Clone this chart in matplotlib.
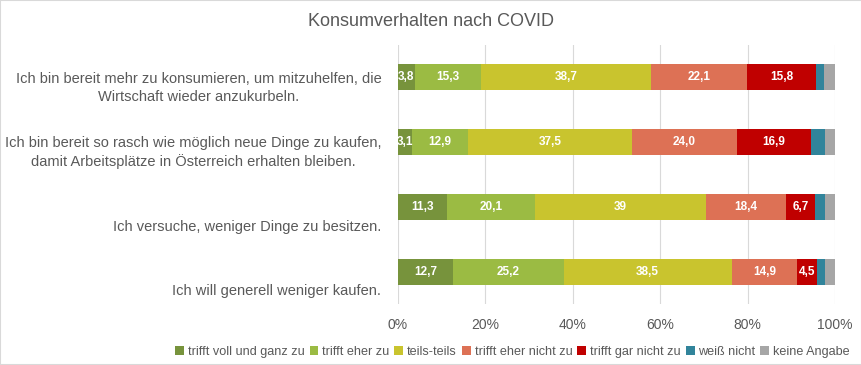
import matplotlib
matplotlib.use('Agg')
import matplotlib.pyplot as plt
from matplotlib.patches import Patch, Rectangle
import numpy as np

# Daten
statements = [
    'Ich bin bereit mehr zu konsumieren, um mitzuhelfen, die\nWirtschaft wieder anzukurbeln.',
    'Ich bin bereit so rasch wie möglich neue Dinge zu kaufen,\ndamit Arbeitsplätze in Österreich erhalten bleiben.',
    'Ich versuche, weniger Dinge zu besitzen.',
    'Ich will generell weniger kaufen.',
]
answers = ['trifft voll und ganz zu', 'trifft eher zu', 'teils-teils', 'trifft eher nicht zu',
           'trifft gar nicht zu', 'weiß nicht', 'keine Angabe']
voll_zu = [3.8, 3.1, 11.3, 12.7]
eher_zu = [15.3, 12.9, 20.1, 25.2]
teils = [38.7, 37.5, 39.0, 38.5]
eher_nicht = [22.1, 24.0, 18.4, 14.9]
gar_nicht = [15.8, 16.9, 6.7, 4.5]
weiss_nicht = [1.7, 3.2, 2.3, 2.0]
keine_angabe = [2.6, 2.4, 2.2, 2.2]
# Beschriftungen wie im Original (39 ohne Komma)
value_labels = [
    ['3,8', '3,1', '11,3', '12,7'],
    ['15,3', '12,9', '20,1', '25,2'],
    ['38,7', '37,5', '39', '38,5'],
    ['22,1', '24,0', '18,4', '14,9'],
    ['15,8', '16,9', '6,7', '4,5'],
]

COLORS = ['#77933c', '#9bbb43', '#c9c42e', '#dd7155', '#c00000', '#31849b', '#a6a6a6']
TEXT_GRAY = '#595959'

plt.rcParams['font.family'] = ['Liberation Sans', 'DejaVu Sans']

fig = plt.figure(figsize=(8.62, 3.65), dpi=100)
ax = fig.add_axes([398 / 862, 1 - 304 / 365, 437 / 862, 259 / 365])

series = [voll_zu, eher_zu, teils, eher_nicht, gar_nicht, weiss_nicht, keine_angabe]
y = np.arange(len(statements))
left = np.zeros(len(statements))
for k, vals in enumerate(series):
    vals = np.array(vals)
    ax.barh(y, vals, left=left, height=0.4, color=COLORS[k], edgecolor='none', zorder=3)
    if k < len(value_labels):
        for i in range(len(statements)):
            ax.text(left[i] + vals[i] / 2, y[i], value_labels[k][i], ha='center', va='center',
                    color='white', fontsize=8.5, fontweight='bold', zorder=4)
    left += vals

ax.set_xlim(0, 100)
ax.set_ylim(len(statements) - 0.5, -0.5)
ax.set_xticks(np.arange(0, 101, 20))
ax.set_xticklabels([f'{v}%' for v in range(0, 101, 20)], color=TEXT_GRAY, fontsize=10)
ax.set_yticks([])
ax.tick_params(axis='x', length=0, pad=10)
ax.grid(axis='x', color='#d9d9d9', linewidth=0.8, zorder=0)
for s in ax.spines.values():
    s.set_visible(False)

# Kategorie-Beschriftungen: rechtsbündig, unten im Band
for i, txt in enumerate(statements):
    ax.annotate(txt, xy=(0, i + 0.5), xycoords=('axes fraction', 'data'),
                xytext=(-12, 4), textcoords='offset points',
                ha='right', va='bottom', multialignment='center',
                fontsize=10.5, color=TEXT_GRAY, linespacing=1.35)

fig.text(431 / 862, 1 - 22 / 365, 'Konsumverhalten nach COVID', ha='center', va='center',
         fontsize=13, color=TEXT_GRAY)

handles = [Patch(facecolor=c, edgecolor='none') for c in COLORS]
fig.legend(handles, answers, loc='center left', bbox_to_anchor=(170 / 862, 1 - 352 / 365),
           ncol=7, frameon=False, fontsize=9.1, handlelength=0.7, handleheight=0.7,
           handletextpad=0.3, columnspacing=0.4, labelcolor=TEXT_GRAY, borderaxespad=0)

fig.patches.append(Rectangle((0, 0), 1, 1, transform=fig.transFigure, fill=False,
                             edgecolor='#d9d9d9', linewidth=1.5))

fig.savefig('out.png', dpi=100)
